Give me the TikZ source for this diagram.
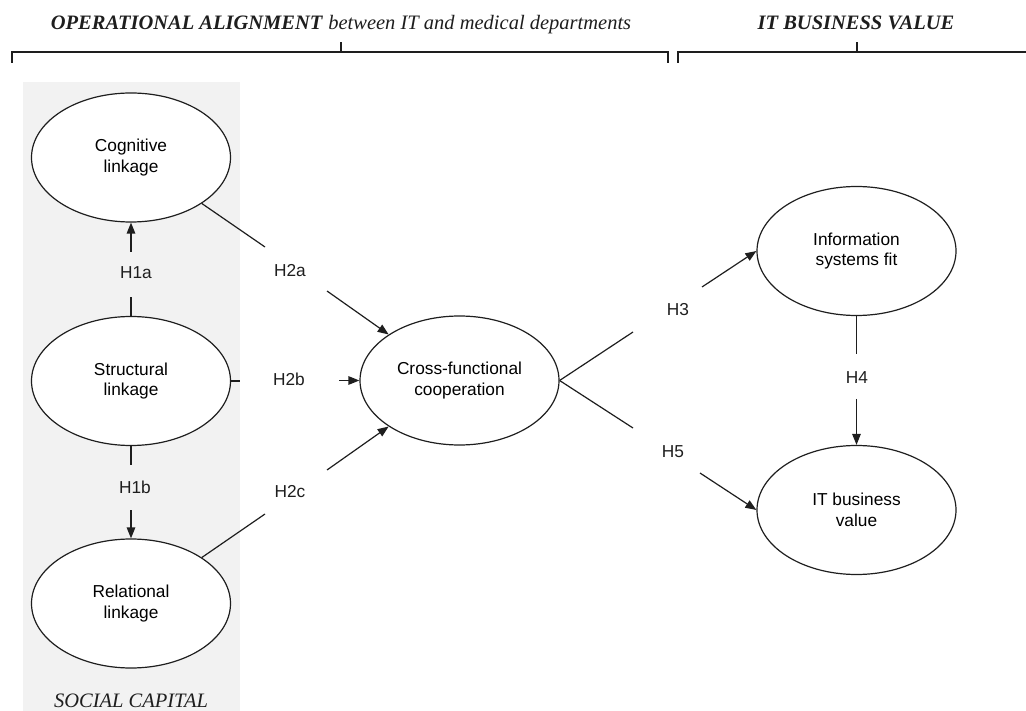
\documentclass[tikz,border=0pt]{standalone}
\usepackage{fontspec}
\setmainfont{Liberation Serif}
\newfontfamily\arialf{Liberation Sans}
\usetikzlibrary{shapes.geometric,arrows.meta}
\definecolor{bggray}{RGB}{242,242,242}
\definecolor{ink}{RGB}{30,30,30}
\tikzset{
  lat/.style={draw=ink, line width=1.2pt, ellipse, fill=white, minimum width=199pt, minimum height=129pt, inner sep=0pt, align=center, font=\arialf\fontsize{17.3}{20.5}\selectfont},
  hyp/.style={font=\arialf\fontsize{17.3}{20.5}\selectfont, inner sep=0pt, text=ink},
  conn/.style={draw=ink, line width=1.2pt},
  arr/.style={conn, -{Triangle[length=11pt,width=8.5pt]}},
  brk/.style={draw=ink, line width=1.3pt},
  ttl/.style={font=\fontsize{20.5}{24}\selectfont, inner sep=0pt, anchor=base, text=ink}
}
\begin{document}
\begin{tikzpicture}[x=1pt,y=-1pt]
\useasboundingbox (0,0) rectangle (1026,711);
% social capital panel
\fill[bggray] (23,82) rectangle (240,711);
\node[ttl, font=\itshape\fontsize{20.5}{24}\selectfont] (sc) at (131,707) {SOCIAL CAPITAL};
% headers
\node[ttl] (t1) at (341,30) {\textbf{\itshape OPERATIONAL ALIGNMENT} \itshape between IT and medical departments};
\node[ttl] (t2) at (856,30) {\textbf{\itshape IT BUSINESS VALUE}};
\draw[brk] (12,63) -- (12,52) -- (668,52) -- (668,63);
\draw[brk] (341,52) -- (341,42);
\draw[brk] (678,63) -- (678,52) -- (1026,52);
\draw[brk] (857,52) -- (857,42);
% latent constructs
\node[lat] (cog) at (131,157.5) {Cognitive\\linkage};
\node[lat] (str) at (131,381) {Structural\\linkage};
\node[lat] (rel) at (131,603.5) {Relational\\linkage};
\node[lat] (cfc) at (459.5,380.5) {Cross-functional\\cooperation};
\node[lat] (isf) at (856.5,251) {Information\\systems fit};
\node[lat] (itv) at (856.5,510) {IT business\\value};
% hypothesis labels
\node[hyp] (h1a) at (136,273) {H1a};
\node[hyp] (h1b) at (135,487) {H1b};
\node[hyp] (h2a) at (290,271) {H2a};
\node[hyp] (h2b) at (289,379) {H2b};
\node[hyp] (h2c) at (290,492) {H2c};
\node[hyp] (h3) at (678,310) {H3};
\node[hyp] (h4) at (857,378) {H4};
\node[hyp] (h5) at (673,452) {H5};
% gap end points
\coordinate (g1a1) at (131,297); \coordinate (g1a2) at (131,252);
\coordinate (g1b1) at (131,465); \coordinate (g1b2) at (131,510);
\coordinate (g2a1) at (265,247); \coordinate (g2a2) at (327,291);
\coordinate (g2b1) at (240,381); \coordinate (g2b2) at (339,380.5);
\coordinate (g2c1) at (265,514); \coordinate (g2c2) at (327,470);
\coordinate (g31) at (633,332); \coordinate (g32) at (702,287);
\coordinate (g51) at (633,428); \coordinate (g52) at (700,473);
\coordinate (g41) at (856.5,354); \coordinate (g42) at (856.5,399);
% connectors
\draw[conn] (str.north) -- (g1a1);
\draw[arr] (g1a2) -- (cog.south);
\draw[conn] (str.south) -- (g1b1);
\draw[arr] (g1b2) -- (rel.north);
\draw[conn] (cog.-33) -- (g2a1);
\draw[arr] (g2a2) -- (cfc.147);
\draw[conn] (str.east) -- (g2b1);
\draw[arr] (g2b2) -- (cfc.west);
\draw[conn] (rel.33) -- (g2c1);
\draw[arr] (g2c2) -- (cfc.-147);
\draw[conn] (cfc.east) -- (g31);
\draw[arr] (g32) -- (isf.west);
\draw[conn] (cfc.east) -- (g51);
\draw[arr] (g52) -- (itv.west);
\draw[conn] (isf.south) -- (g41);
\draw[arr] (g42) -- (itv.north);
\end{tikzpicture}
\end{document}
